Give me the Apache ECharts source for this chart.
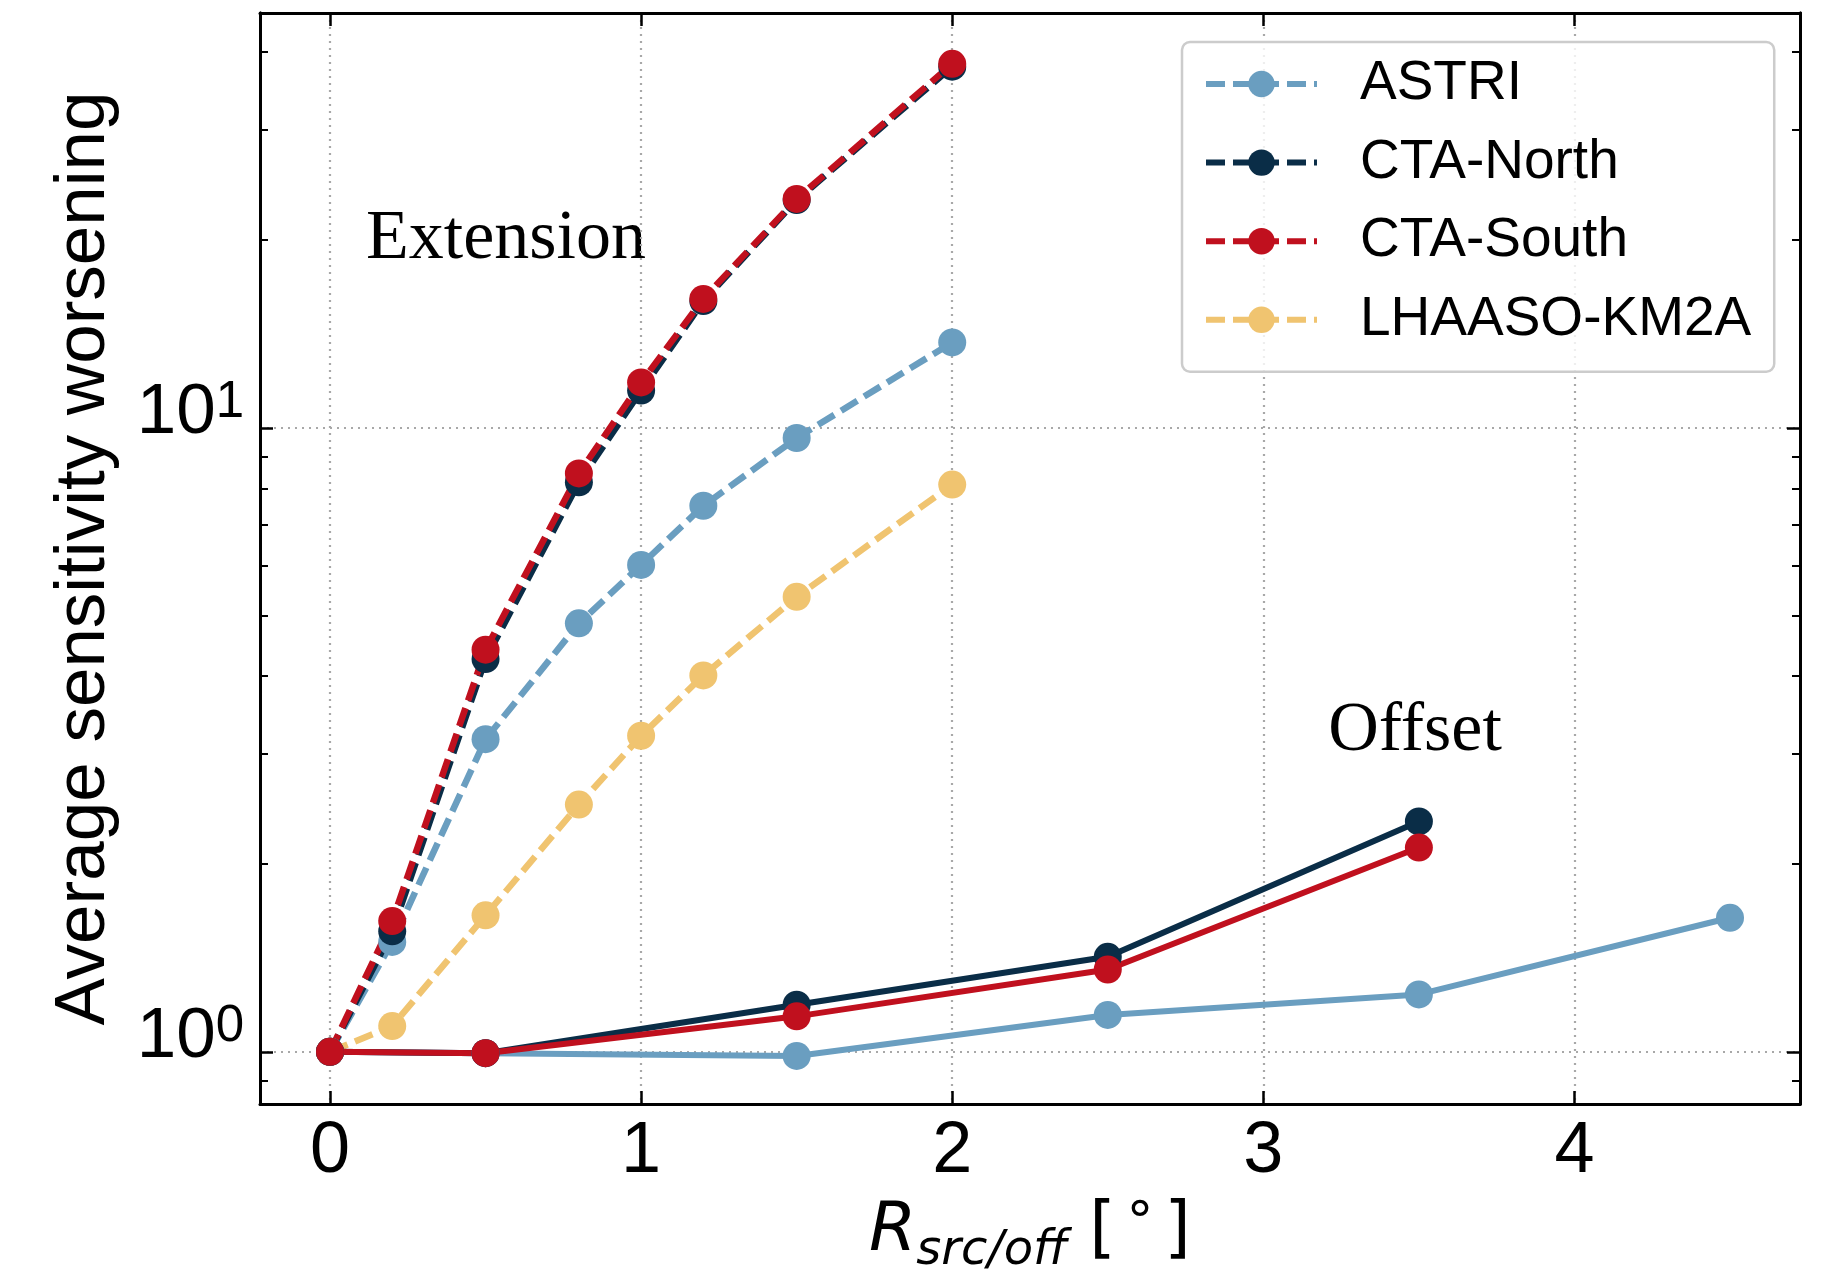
<!DOCTYPE html>
<html><head><meta charset="utf-8">
<script src="https://cdn.jsdelivr.net/npm/echarts@6/dist/echarts.min.js"></script>
<style>html,body{margin:0;padding:0;background:#fff}#c{width:1823px;height:1273px}</style>
</head><body><div id="c"></div>
<script>
// ---- data ----
const seriesNames = ['ASTRI', 'CTA-North', 'CTA-South', 'LHAASO-KM2A'];
const extX = [0, 0.2, 0.5, 0.8, 1.0, 1.2, 1.5, 2.0];
const extASTRI  = [1.0, 1.50, 3.17, 4.86, 6.03, 7.50, 9.63, 13.7];
const extNorth  = [1.0, 1.56, 4.26, 8.18, 11.47, 15.96, 23.17, 37.9];
const extSouth  = [1.0, 1.62, 4.41, 8.45, 11.82, 16.09, 23.27, 38.3];
const extLHAASO = [1.0, 1.10, 1.655, 2.49, 3.21, 4.01, 5.36, 8.11];
const offX = [0, 0.5, 1.5, 2.5, 3.5, 4.5];
const offASTRI = [1.0, 0.995, 0.985, 1.146, 1.236, 1.64];
const offNorth = [1.0, 0.995, 1.19, 1.42, 2.34];
const offSouth = [1.0, 0.995, 1.14, 1.355, 2.125];
const xTicks = [0, 1, 2, 3, 4];
const yMajor = [1, 10];
const yMinor = [0.9, 2, 3, 4, 5, 6, 7, 8, 9, 20, 30, 40];

const colors = {'ASTRI': '#6a9ec0', 'CTA-North': '#0a2d47', 'CTA-South': '#c0101e', 'LHAASO-KM2A': '#f0c470'};
const X_MIN = -0.225, X_MAX = 4.725, Y_MIN = 0.825, Y_MAX = 46.2;
const FONT = 'Liberation Sans';

function pairs(xs, ys) { return ys.map((y, i) => [xs[i], y]); }
function mkSeries(name, xs, ys, dashed) {
  const c = colors[name];
  return {
    type: 'line', name: name, data: pairs(xs, ys), xAxisIndex: 0, yAxisIndex: 0,
    symbol: 'circle', symbolSize: 28, showSymbol: true,
    itemStyle: {color: c, borderWidth: 0},
    lineStyle: {color: c, width: dashed ? 6.5 : 6, type: dashed ? [19, 8] : 'solid'},
    emphasis: {disabled: true}, silent: true, animation: false
  };
}

const axisLineStyle = {show: true, onZero: false, lineStyle: {color: '#000', width: 3}};
const majorTick = vals => ({show: true, inside: true, length: 13, customValues: vals, lineStyle: {color: '#000', width: 2.5}});
const minorTick = vals => ({show: true, inside: true, length: 8, customValues: vals, lineStyle: {color: '#000', width: 2}});
const gridLine = {show: true, lineStyle: {color: '#a8a8a8', width: 2.2, type: [2, 5]}};

function yAxisBase(pos) {
  return {type: 'log', position: pos, min: Y_MIN, max: Y_MAX, axisLine: axisLineStyle,
    axisLabel: {show: false}, splitLine: {show: false}};
}

const option = {
  backgroundColor: '#fff',
  animation: false,
  grid: {left: 260, right: 23, top: 13, bottom: 169, containLabel: false, outerBoundsMode: 'none'},
  xAxis: [
    {type: 'value', position: 'bottom', min: X_MIN, max: X_MAX,
     axisLine: axisLineStyle, axisTick: majorTick(xTicks),
     axisLabel: {show: true, customValues: xTicks, margin: 12, fontSize: 72, fontFamily: FONT, color: '#000'},
     splitLine: gridLine,
     name: '{r|R}{s|src/off}{n| [}{d|\u2009°\u2009}{n|]}', nameLocation: 'middle', nameGap: 94,
     nameTextStyle: {color: '#000', rich: {
       r: {fontFamily: 'DejaVu Sans', fontStyle: 'italic', fontSize: 68, lineHeight: 80, verticalAlign: 'top', color: '#000'},
       s: {fontFamily: 'DejaVu Sans', fontStyle: 'italic', fontSize: 48, lineHeight: 56, padding: [30, 0, 0, 0], verticalAlign: 'top', color: '#000'},
       n: {fontFamily: 'DejaVu Sans', fontSize: 68, lineHeight: 80, verticalAlign: 'top', color: '#000'},
       d: {fontFamily: 'DejaVu Sans', fontSize: 54, lineHeight: 60, verticalAlign: 'top', color: '#000'}
     }}},
    {type: 'value', position: 'top', min: X_MIN, max: X_MAX,
     axisLine: axisLineStyle, axisTick: majorTick(xTicks), axisLabel: {show: false}, splitLine: {show: false}}
  ],
  yAxis: [
    Object.assign(yAxisBase('left'), {
      axisTick: majorTick(yMajor),
      axisLabel: {show: true, customValues: yMajor, margin: 16,
        formatter: v => '{b|10}{s|' + Math.round(Math.log10(v)) + '}',
        rich: {
          b: {fontFamily: FONT, fontSize: 71, lineHeight: 100, verticalAlign: 'top', color: '#000'},
          s: {fontFamily: FONT, fontSize: 51, lineHeight: 50, verticalAlign: 'top', color: '#000'}
        }},
      splitLine: gridLine,
      name: 'Average sensitivity worsening', nameLocation: 'middle', nameGap: 140, nameRotate: 90,
      nameTextStyle: {fontFamily: FONT, fontSize: 71, color: '#000'}
    }),
    Object.assign(yAxisBase('left'), {axisTick: minorTick(yMinor)}),
    Object.assign(yAxisBase('right'), {axisTick: majorTick(yMajor)}),
    Object.assign(yAxisBase('right'), {axisTick: minorTick(yMinor)})
  ],
  legend: {
    data: seriesNames, orient: 'vertical', left: 1182, top: 42,
    padding: [14, 23, 24, 21], itemGap: 22.6, itemWidth: 111, itemHeight: 33,
    backgroundColor: 'rgba(255,255,255,0.8)', borderColor: '#cccccc', borderWidth: 2.5, borderRadius: 8,
    lineStyle: {width: 6, type: [19, 8]},
    textStyle: {fontSize: 55, fontFamily: FONT, color: '#000', padding: [0, 0, 0, 38], lineHeight: 56},
    selectedMode: false
  },
  graphic: [
    {type: 'text', position: [506, 240], style: {text: 'Extension', font: '70px "Liberation Serif"', fill: '#000', align: 'center', verticalAlign: 'middle'}},
    {type: 'text', position: [1415, 732], style: {text: 'Offset', font: '70px "Liberation Serif"', fill: '#000', align: 'center', verticalAlign: 'middle'}}
  ],
  series: [
    mkSeries('ASTRI', extX, extASTRI, true),
    mkSeries('CTA-North', extX, extNorth, true),
    mkSeries('CTA-South', extX, extSouth, true),
    mkSeries('LHAASO-KM2A', extX, extLHAASO, true),
    mkSeries('ASTRI', offX, offASTRI, false),
    mkSeries('CTA-North', offX, offNorth, false),
    mkSeries('CTA-South', offX, offSouth, false)
  ]
};
const chart = echarts.init(document.getElementById('c'), null, {renderer: 'canvas'});
chart.setOption(option);
</script></body></html>
